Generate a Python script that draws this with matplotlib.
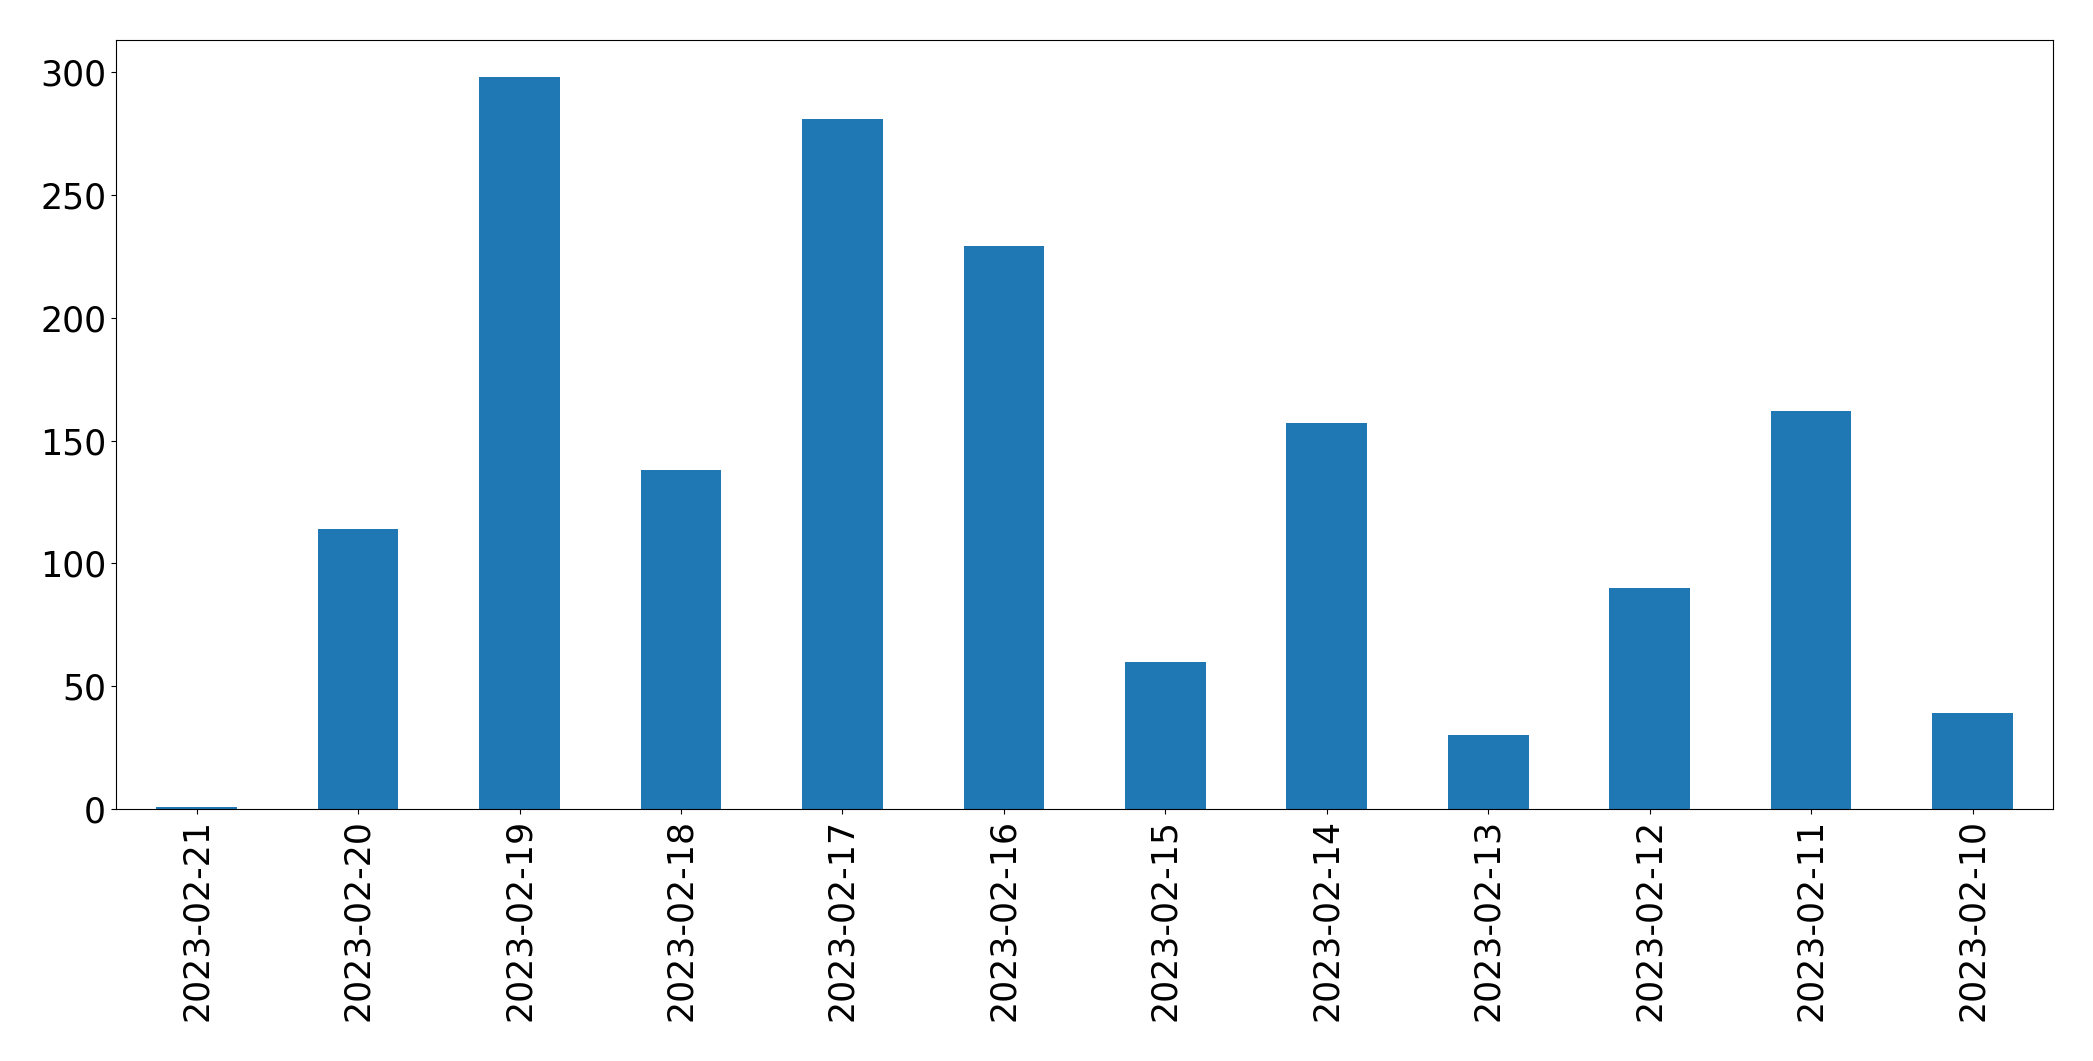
import pandas as pd
import matplotlib
matplotlib.use('Agg')
import matplotlib.pyplot as plt

# daily counts, newest first (as in the source table)
dates = ['2023-02-21', '2023-02-20', '2023-02-19', '2023-02-18', '2023-02-17', '2023-02-16',
         '2023-02-15', '2023-02-14', '2023-02-13', '2023-02-12', '2023-02-11', '2023-02-10']
counts = [1, 114, 298, 138, 281, 229, 60, 157, 30, 90, 162, 39]

s = pd.Series(counts, index=dates)

fig = plt.figure(figsize=(20.93, 10.61), dpi=100)
ax = fig.add_axes([0.0554, 0.2375, 0.9256, 0.7245])
s.plot(kind='bar', ax=ax, color='#1f77b4', width=0.5, fontsize=25)
ax.set_xlim(-0.5, len(dates) - 0.5)
for sp in ax.spines.values():
    sp.set_color('black')

fig.savefig('out.png', dpi=100)
